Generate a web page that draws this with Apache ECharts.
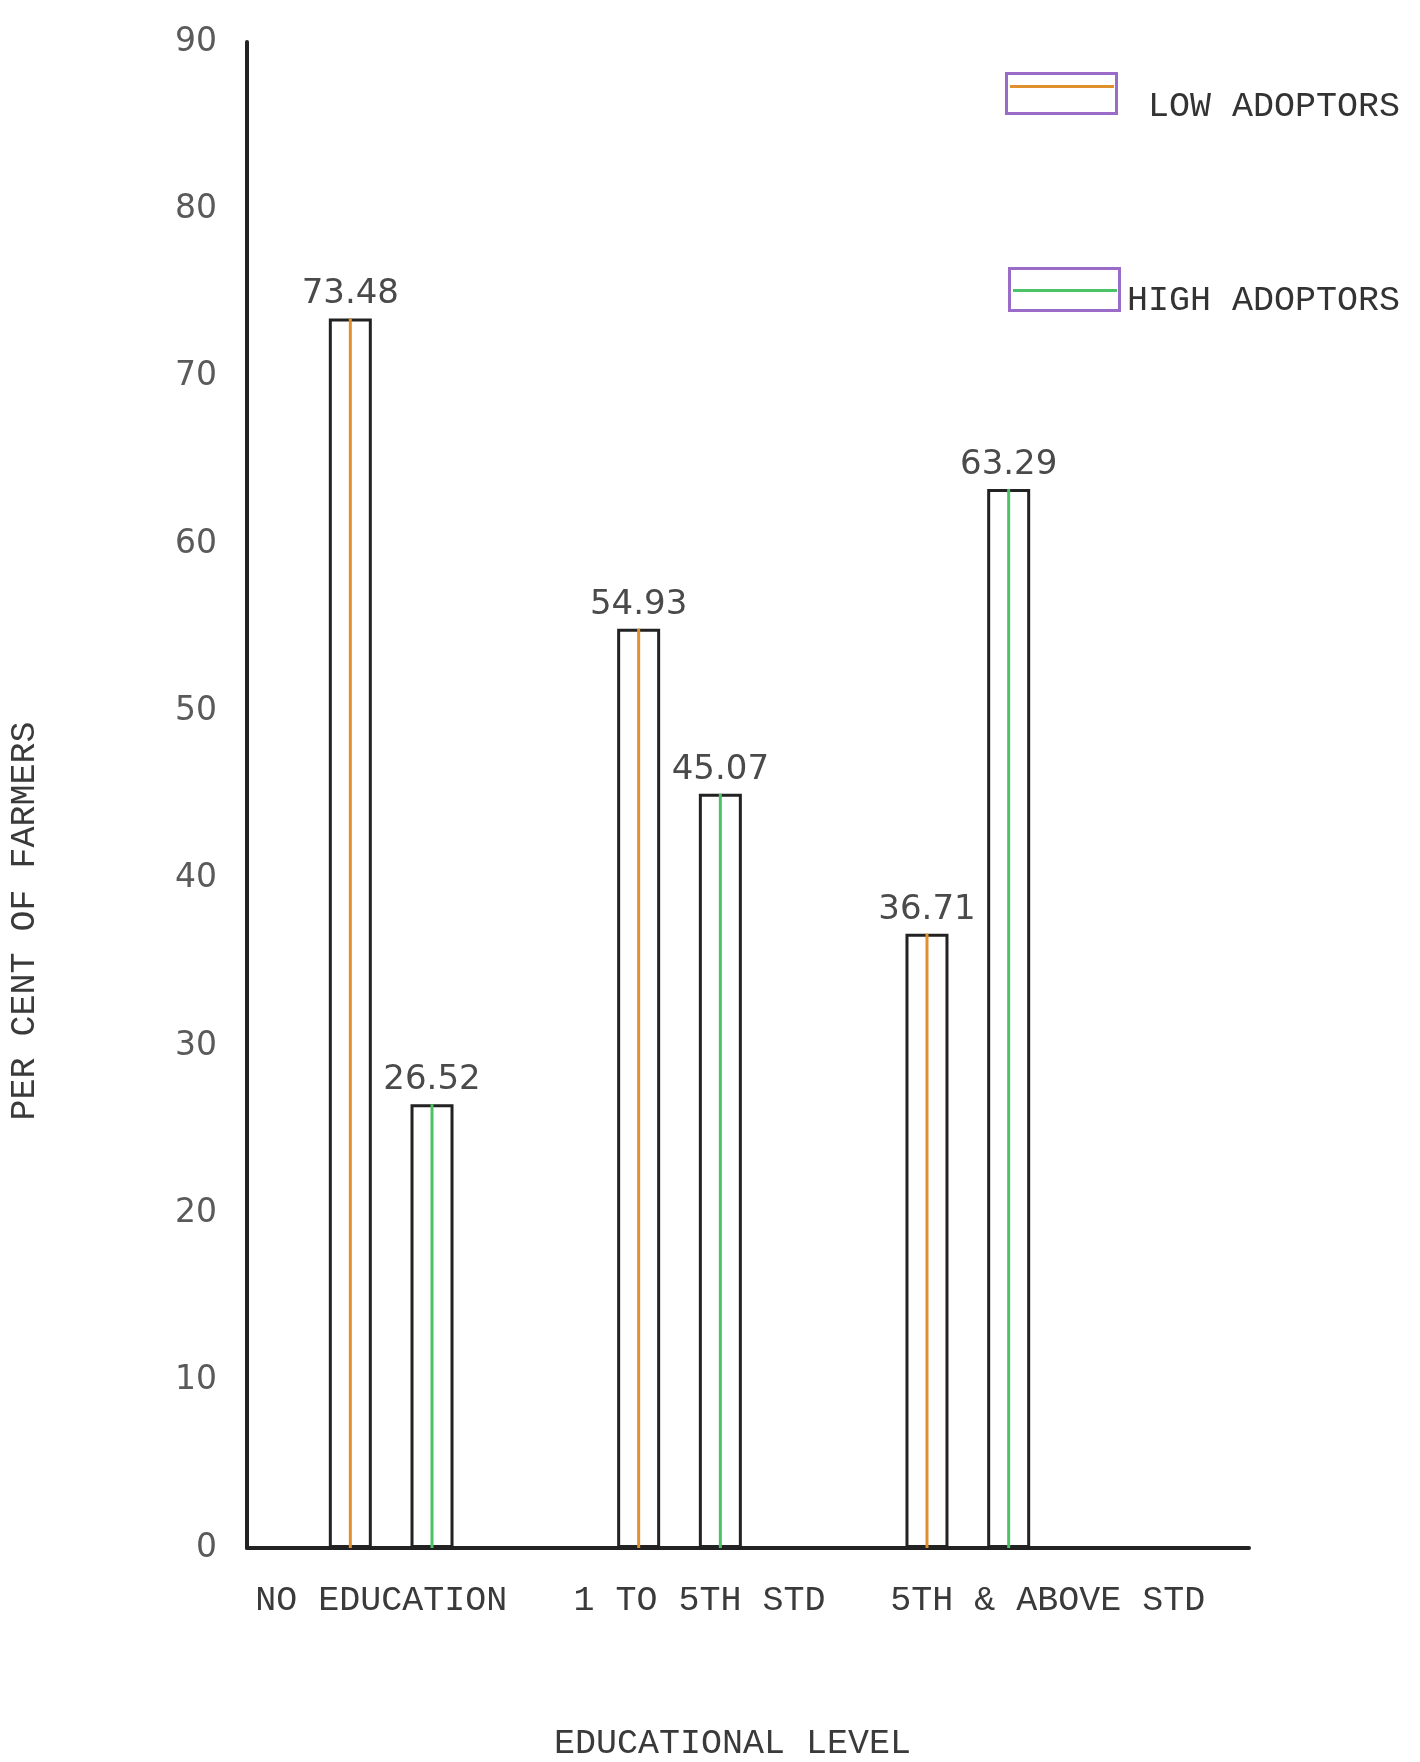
<!DOCTYPE html>
<html>
<head>
<meta charset="utf-8">
<script src="https://cdn.jsdelivr.net/npm/echarts@6/dist/echarts.min.js"></script>
<style>
html,body{margin:0;padding:0;background:#fff;}
#chart{width:1420px;height:1762px;}
</style>
</head>
<body>
<div id="chart"></div>
<script>
// ---- data ----
var categories = ['NO EDUCATION', '1 TO 5TH STD', '5TH & ABOVE STD'];
var lowAdopters = [73.48, 54.93, 36.71];
var highAdopters = [26.52, 45.07, 63.29];
var seriesNames = ['LOW ADOPTORS', 'HIGH ADOPTORS'];
var yTicks = { min: 0, max: 90, interval: 10 };
var yAxisTitle = 'PER CENT OF FARMERS';
var xAxisTitle = 'EDUCATIONAL LEVEL';

// ---- styles ----
var MONO = '"Liberation Mono", "DejaVu Sans Mono", monospace';
var SANS = '"DejaVu Sans", "Liberation Sans", sans-serif';
var INK = '#222';
var PURPLE = '#9a6cc8';
var ORANGE = '#e0902e';
var GREEN = '#4cc266';
var labelShift = [-10, 20, 80];

var chart = echarts.init(document.getElementById('chart'), null, { renderer: 'canvas' });

function valueLabel() {
  return {
    show: true, position: 'top', distance: 7,
    fontFamily: SANS, fontSize: 34, color: '#4a4a4a',
    formatter: function (p) { return p.value.toFixed(2); }
  };
}

var rich = {};
labelShift.forEach(function (s, i) {
  rich['l' + i] = {
    fontFamily: MONO, fontSize: 35, color: '#3a3a3a',
    padding: s >= 0 ? [0, 0, 0, 2 * s] : [0, -2 * s, 0, 0]
  };
});

function boxLegend(name, left, top, h) {
  return {
    data: [{ name: name, itemStyle: { color: '#fff', borderColor: PURPLE, borderWidth: 3 } }],
    left: left, top: top, padding: 0, icon: 'rect', itemWidth: 110, itemHeight: h,
    selectedMode: false, formatter: function () { return ''; }, textStyle: { fontSize: 1 }
  };
}
function stripeLegend(name, left, top) {
  return {
    data: [name], left: left, top: top, padding: 0, icon: 'rect',
    itemWidth: 104, itemHeight: 3, selectedMode: false,
    formatter: function () { return ''; }, textStyle: { fontSize: 1 }
  };
}
function textLegend(name, left, top) {
  return {
    data: [name], left: left, top: top, padding: 0, icon: 'none',
    itemWidth: 0, itemHeight: 10, selectedMode: false,
    textStyle: { fontFamily: MONO, fontSize: 35, lineHeight: 40, color: '#333' }
  };
}

var option = {
  backgroundColor: '#fff',
  animation: false,
  grid: [
    { left: 247, right: 308, top: 42, bottom: 214, outerBoundsMode: 'none', containLabel: false },
    { left: 247, right: 171, top: 42, bottom: 214, outerBoundsMode: 'none', containLabel: false }
  ],
  xAxis: [
    {
      type: 'category', gridIndex: 0, data: categories,
      axisLine: { show: false }, axisTick: { show: false },
      axisLabel: {
        margin: 35,
        formatter: function (v, i) { return '{l' + i + '|' + v + '}'; },
        rich: rich
      },
      name: xAxisTitle, nameLocation: 'middle', nameGap: 178,
      nameTextStyle: { fontFamily: MONO, fontSize: 35, color: '#3a3a3a', padding: [0, 0, 0, 106] }
    },
    {
      type: 'category', gridIndex: 0, data: categories, show: false
    },
    {
      type: 'value', gridIndex: 1, min: 0, max: 1,
      axisLine: { show: true, onZero: false, lineStyle: { color: INK, width: 4 } },
      axisTick: { show: false }, axisLabel: { show: false }, splitLine: { show: false }
    }
  ],
  yAxis: [
    {
      type: 'value', gridIndex: 0, min: yTicks.min, max: yTicks.max, interval: yTicks.interval,
      axisLine: { show: true, lineStyle: { color: INK, width: 4 } },
      axisTick: { show: false }, splitLine: { show: false },
      axisLabel: { fontFamily: SANS, fontSize: 33, color: '#5a5a5a', margin: 30, padding: [0, 0, 16, 0] },
      name: yAxisTitle, nameLocation: 'middle', nameRotate: 90, nameGap: 205,
      nameTextStyle: { fontFamily: MONO, fontSize: 35, color: '#3a3a3a', padding: [0, 252, 0, 0] }
    },
    { type: 'value', gridIndex: 1, min: 0, max: 1, show: false }
  ],
  legend: [
    boxLegend(seriesNames[0], 1005, 72, 40),
    boxLegend(seriesNames[1], 1008, 267, 42),
    stripeLegend(seriesNames[0] + ' line', 1010, 85),
    stripeLegend(seriesNames[1] + ' line', 1013, 289),
    textLegend(seriesNames[0], 1143, 87),
    textLegend(seriesNames[1], 1122, 281)
  ],
  series: [
    {
      name: seriesNames[0], type: 'bar', xAxisIndex: 0, yAxisIndex: 0,
      data: lowAdopters, barWidth: 43, barGap: '90%', z: 2,
      itemStyle: { color: '#fff', borderColor: INK, borderWidth: 3 },
      label: valueLabel()
    },
    {
      name: seriesNames[1], type: 'bar', xAxisIndex: 0, yAxisIndex: 0,
      data: highAdopters, barWidth: 43, barGap: '90%', z: 2,
      itemStyle: { color: '#fff', borderColor: INK, borderWidth: 3 },
      label: valueLabel()
    },
    {
      name: seriesNames[0] + ' line', type: 'bar', xAxisIndex: 1, yAxisIndex: 0,
      data: lowAdopters, barWidth: 3, barGap: '2623%', z: 3,
      itemStyle: { color: ORANGE }
    },
    {
      name: seriesNames[1] + ' line', type: 'bar', xAxisIndex: 1, yAxisIndex: 0,
      data: highAdopters, barWidth: 3, barGap: '2623%', z: 3,
      itemStyle: { color: GREEN }
    }
  ]
};

chart.setOption(option);
</script>
</body>
</html>
